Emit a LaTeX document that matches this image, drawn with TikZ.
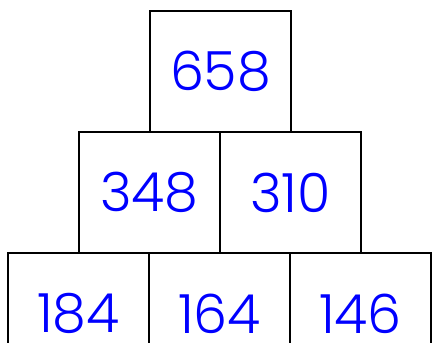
\documentclass[tikz,border=0pt]{standalone}
\usepackage{fontspec}
\setmainfont{Poppins Light}
\begin{document}
\begin{tikzpicture}[x=1pt,y=-1pt,
  cell/.style={draw=black, line width=2pt, minimum width=141pt, minimum height=121pt,
    inner sep=0pt, text=blue, font=\fontsize{54}{60}\selectfont}]
\useasboundingbox (0,0) rectangle (432,343);
\node[cell] (top) at (220.5,71.5) {658};
\node[cell] (ml) at (149.5,192.5) {348};
\node[cell] (mr) at (290.5,192.5) {310};
\node[cell] (bl) at (78.5,313.5) {184};
\node[cell] (bm) at (219.5,313.5) {164};
\node[cell] (br) at (360.5,313.5) {146};
\end{tikzpicture}
\end{document}
